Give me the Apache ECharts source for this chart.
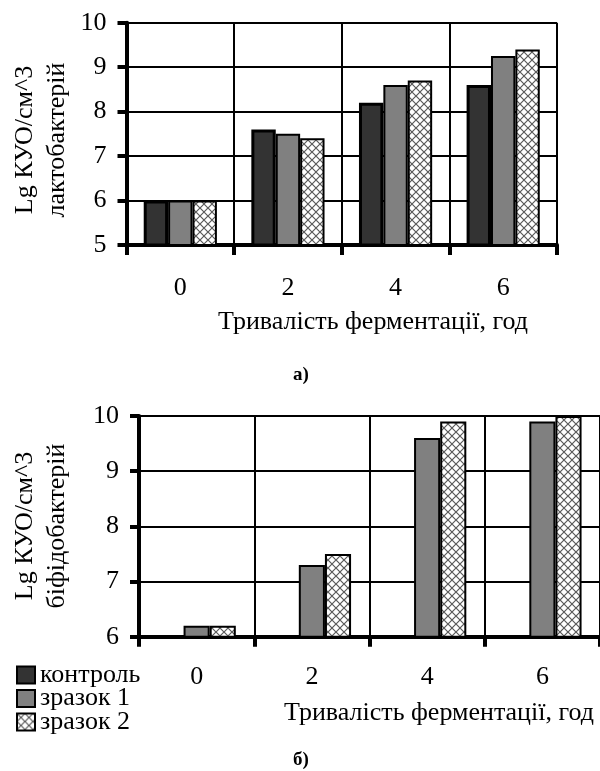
<!DOCTYPE html>
<html>
<head>
<meta charset="utf-8">
<script src="https://cdn.jsdelivr.net/npm/echarts@6/dist/echarts.min.js"></script>
<style>
html,body{margin:0;padding:0;background:#fff;}
#chart{width:600px;height:771px;}
</style>
</head>
<body>
<div id="chart"></div>
<script>
// ---- data ----
const categories = ['0', '2', '4', '6'];
const seriesNames = ['контроль', 'зразок 1', 'зразок 2'];
const lactoControl = [6.0, 7.6, 8.2, 8.6];
const lactoSample1 = [6.0, 7.5, 8.6, 9.25];
const lactoSample2 = [6.0, 7.4, 8.7, 9.4];
const bifidoControl = [null, null, null, null];
const bifidoSample1 = [6.2, 7.3, 9.6, 9.9];
const bifidoSample2 = [6.2, 7.5, 9.9, 10.0];
const lactoAxisRange = [5, 10];
const bifidoAxisRange = [6, 10];
const xTitle = 'Тривалість ферментації, год';
const lactoYTitle = 'Lg КУО/см^3\nлактобактерій';
const bifidoYTitle = 'Lg КУО/см^3\nбіфідобактерій';

// ---- styles ----
const FONT = '"Liberation Serif", "Times New Roman", serif';
const FS = 26;

function makeHatch() {
  const c = document.createElement('canvas');
  c.width = 8; c.height = 8;
  const ctx = c.getContext('2d');
  ctx.fillStyle = '#ffffff';
  ctx.fillRect(0, 0, 8, 8);
  ctx.strokeStyle = '#5a5a5a';
  ctx.lineWidth = 1.2;
  ctx.beginPath();
  ctx.moveTo(0, 0); ctx.lineTo(8, 8);
  ctx.moveTo(8, 0); ctx.lineTo(0, 8);
  ctx.stroke();
  return c;
}
const hatch = { image: makeHatch(), repeat: 'repeat' };

const seriesStyles = [
  { color: '#333333', borderColor: '#000', borderWidth: 3 },
  { color: '#808080', borderColor: '#000', borderWidth: 2 },
  { color: hatch, borderColor: '#000', borderWidth: 2 }
];

function xAxisFor(gridIndex, margin) {
  return {
    type: 'category', gridIndex: gridIndex, data: categories,
    axisLine: { show: true, lineStyle: { color: '#000', width: 4 } },
    axisTick: { show: true, length: 10, lineStyle: { color: '#000', width: 4 } },
    axisLabel: { color: '#000', fontSize: FS, fontFamily: FONT, margin: margin },
    splitLine: { show: true, interval: 0, lineStyle: { color: '#000', width: 2 } }
  };
}
function yAxisFor(gridIndex, range) {
  return {
    type: 'value', gridIndex: gridIndex, min: range[0], max: range[1], interval: 1,
    axisLine: { show: true, lineStyle: { color: '#000', width: 4 } },
    axisTick: { show: true, length: 9, lineStyle: { color: '#000', width: 4 } },
    axisLabel: { color: '#000', fontSize: FS, fontFamily: FONT, margin: 20 },
    splitLine: { show: true, lineStyle: { color: '#000', width: 2 } }
  };
}
function barSeries(name, data, idx, gridIdx) {
  return {
    type: 'bar', name: name, data: data,
    xAxisIndex: gridIdx, yAxisIndex: gridIdx,
    barGap: '0%', barCategoryGap: '32%', clip: true,
    itemStyle: seriesStyles[idx],
    emphasis: { disabled: true }
  };
}

const chart = echarts.init(document.getElementById('chart'), null, { renderer: 'canvas' });
chart.setOption({
  animation: false,
  backgroundColor: '#fff',
  grid: [
    { left: 126.5, top: 22.7, width: 430.5, height: 222.3 },
    { left: 139, top: 416, width: 467, height: 220.7 }
  ],
  xAxis: [xAxisFor(0, 30), xAxisFor(1, 27)],
  yAxis: [yAxisFor(0, lactoAxisRange), yAxisFor(1, bifidoAxisRange)],
  legend: {
    data: seriesNames, orient: 'vertical', left: 16, top: 662, padding: 0,
    itemWidth: 18, itemHeight: 17, itemGap: -2.5, selectedMode: false,
    icon: 'rect',
    textStyle: { color: '#000', fontSize: FS, fontFamily: FONT }
  },
  series: [
    barSeries(seriesNames[0], lactoControl, 0, 0),
    barSeries(seriesNames[1], lactoSample1, 1, 0),
    barSeries(seriesNames[2], lactoSample2, 2, 0),
    barSeries(seriesNames[0], bifidoControl, 0, 1),
    barSeries(seriesNames[1], bifidoSample1, 1, 1),
    barSeries(seriesNames[2], bifidoSample2, 2, 1)
  ],
  graphic: [
    { type: 'text', x: 41, y: 140, rotation: Math.PI / 2,
      style: { text: lactoYTitle, fontSize: FS, fontFamily: FONT, fill: '#000', align: 'center', verticalAlign: 'middle', lineHeight: 32 } },
    { type: 'text', x: 41, y: 526, rotation: Math.PI / 2,
      style: { text: bifidoYTitle, fontSize: FS, fontFamily: FONT, fill: '#000', align: 'center', verticalAlign: 'middle', lineHeight: 32 } },
    { type: 'text', x: 373, y: 322,
      style: { text: xTitle, fontSize: FS, fontFamily: FONT, fill: '#000', align: 'center', verticalAlign: 'middle' } },
    { type: 'text', x: 439, y: 713,
      style: { text: xTitle, fontSize: FS, fontFamily: FONT, fill: '#000', align: 'center', verticalAlign: 'middle' } },
    { type: 'text', x: 301, y: 375,
      style: { text: 'а)', fontSize: 19, fontWeight: 'bold', fontFamily: FONT, fill: '#000', align: 'center', verticalAlign: 'middle' } },
    { type: 'text', x: 301, y: 760,
      style: { text: 'б)', fontSize: 19, fontWeight: 'bold', fontFamily: FONT, fill: '#000', align: 'center', verticalAlign: 'middle' } }
  ]
});
</script>
</body>
</html>
